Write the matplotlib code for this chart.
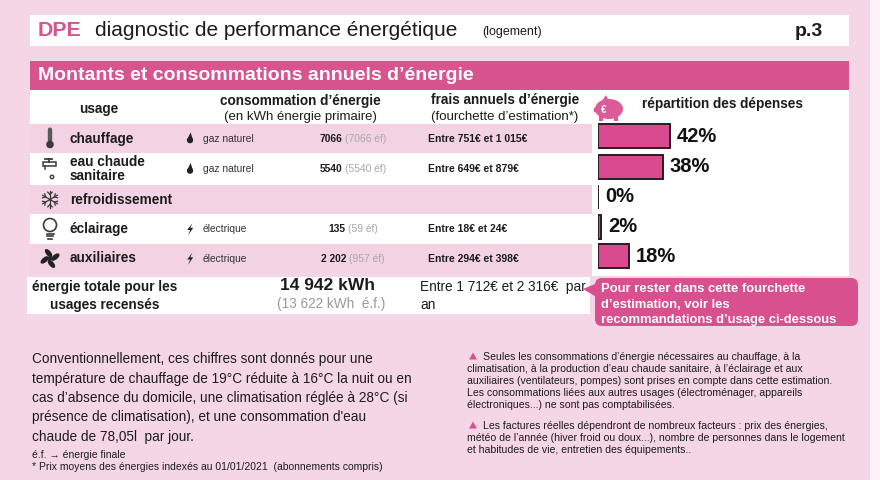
import math
import matplotlib
matplotlib.use('Agg')
import matplotlib.pyplot as plt
from matplotlib.patches import Rectangle, FancyBboxPatch, Polygon, Circle, Ellipse

plt.rcParams['font.family'] = ['Liberation Sans', 'DejaVu Sans']

# ---------------- data ----------------
usages = ['chauffage', 'eau chaude\nsanitaire', 'refroidissement', 'éclairage', 'auxiliaires']
energy_types = ['gaz naturel', 'gaz naturel', '', 'électrique', 'électrique']
energy_kinds = ['gaz', 'gaz', '', 'elec', 'elec']
conso_primaire = ['7066', '5540', '', '135', '2 202']
conso_finale = ['7066', '5540', '', '59', '957']
frais = ['Entre 751€ et 1 015€', 'Entre 649€ et 879€', '', 'Entre 18€ et 24€', 'Entre 294€ et 398€']
repartition = [42, 38, 0, 2, 18]
total_label = ['énergie totale pour les', 'usages recensés']
total_primaire = '14 942 kWh'
total_finale = '(13 622 kWh  é.f.)'
total_frais = ['Entre 1 712€ et 2 316€  par', 'an']
callout_lines = ['Pour rester dans cette fourchette',
                 'd’estimation, voir les',
                 'recommandations d’usage ci-dessous']
body_lines = ['Conventionnellement, ces chiffres sont donnés pour une',
              'température de chauffage de 19°C réduite à 16°C la nuit ou en',
              'cas d’absence du domicile, une climatisation réglée à 28°C (si',
              'présence de climatisation), et une consommation d\'eau',
              'chaude de 78,05l  par jour.']
foot_lines = ['é.f. → énergie finale',
              '* Prix moyens des énergies indexés au 01/01/2021  (abonnements compris)']
note1 = ['Seules les consommations d’énergie nécessaires au chauffage, à la',
         'climatisation, à la production d’eau chaude sanitaire, à l’éclairage et aux',
         'auxiliaires (ventilateurs, pompes) sont prises en compte dans cette estimation.',
         'Les consommations liées aux autres usages (électroménager, appareils',
         'électroniques...) ne sont pas comptabilisées.']
note2 = ['Les factures réelles dépendront de nombreux facteurs : prix des énergies,',
         'météo de l’année (hiver froid ou doux...), nombre de personnes dans le logement',
         'et habitudes de vie, entretien des équipements..']

# ---------------- style ----------------
BG = '#f5d6e7'
ROWPINK = '#f3d3e3'
PINK = '#d7548f'
BARPINK = '#d94a8e'
DARK = '#1c1c1c'
GREY = '#a8a8a8'
W, H = 880, 480

fig = plt.figure(figsize=(8.8, 4.8), dpi=100)
ax = fig.add_axes([0, 0, 1, 1])
ax.set_xlim(0, W)
ax.set_ylim(H, 0)
ax.axis('off')


def rect(x0, y0, x1, y1, color, z=0):
    ax.add_patch(Rectangle((x0, y0), x1 - x0, y1 - y0, facecolor=color,
                           edgecolor='none', zorder=z))


rect(0, 0, 870, 480, BG)
rect(870, 0, 880, 480, '#fdf2f8')

# header
rect(30, 15, 849, 46, 'white')
ax.text(38, 31, 'DPE', color=PINK, fontsize=15.4, fontweight='bold', va='center')
ax.text(95, 31, 'diagnostic de performance énergétique', color=DARK, fontsize=15, va='center')
ax.text(482, 32.5, '(logement)', color=DARK, fontsize=9, va='center')
ax.text(823, 31, 'p.3', color=DARK, fontsize=14, fontweight='bold', ha='right', va='center')

# banner
rect(30, 61, 849, 90, PINK)
ax.text(38, 76, 'Montants et consommations annuels d’énergie', color='white',
        fontsize=14, fontweight='bold', va='center')

# table header
rect(30, 90, 592, 124, 'white')
rect(592, 90, 849, 276, 'white')
ax.text(99, 109, 'usage', fontsize=9.8, fontweight='bold', ha='center', va='center', color=DARK)
ax.text(300, 101, 'consommation d’énergie', fontsize=9.8, fontweight='bold', ha='center', va='center', color=DARK)
ax.text(300, 117, '(en kWh énergie primaire)', fontsize=9.5, ha='center', va='center', color=DARK)
ax.text(505, 100, 'frais annuels d’énergie', fontsize=9.8, fontweight='bold', ha='center', va='center', color=DARK)
ax.text(505, 117, '(fourchette d’estimation*)', fontsize=9.5, ha='center', va='center', color=DARK)

# rows
edges = [124, 153, 185, 214, 244, 273]
centers = [(a + b) / 2 for a, b in zip(edges[:-1], edges[1:])]
for i, (a, b) in enumerate(zip(edges[:-1], edges[1:])):
    rect(30, a, 592, b, ROWPINK if i % 2 == 0 else 'white')

ICON = '#3a3a3a'


def icon_thermo(x, y):
    ax.add_patch(FancyBboxPatch((x - 2.2, y - 11), 4.4, 15, boxstyle='round,pad=0,rounding_size=2.2',
                                fc='#5a5a5a', ec='none', zorder=3))
    ax.add_patch(Circle((x, y + 6), 3.8, fc='#3a3a3a', ec='none', zorder=3))


def icon_faucet(x, y):
    ax.plot([x - 5, x + 2], [y - 10, y - 10], color=ICON, lw=1.3, zorder=3)
    ax.plot([x - 1.5, x - 1.5], [y - 10, y - 7], color=ICON, lw=1.3, zorder=3)
    ax.add_patch(Rectangle((x - 7, y - 7), 13, 4, fc='none', ec=ICON, lw=1.1, zorder=3))
    ax.plot([x - 5.5, x - 5.5], [y - 3, y + 0], color=ICON, lw=1.1, zorder=3)
    ax.add_patch(Circle((x + 2, y + 8), 1.7, fc='none', ec=ICON, lw=1.0, zorder=3))


def icon_snow(x, y):
    r = 8.5
    for k in range(6):
        a = math.radians(90 + 60 * k)
        ex, ey = x + r * math.cos(a), y - r * math.sin(a)
        ax.plot([x, ex], [y, ey], color=ICON, lw=0.9, zorder=3)
        mx, my = x + 0.6 * r * math.cos(a), y - 0.6 * r * math.sin(a)
        for d in (-45, 45):
            b = a + math.radians(d)
            ax.plot([mx, mx + 3.2 * math.cos(b)], [my, my - 3.2 * math.sin(b)], color=ICON, lw=0.9, zorder=3)


def icon_bulb(x, y):
    ax.add_patch(Circle((x, y - 4), 6.5, fc='none', ec=ICON, lw=1.2, zorder=3))
    ax.plot([x - 3.5, x + 3.5], [y + 4.5, y + 4.5], color=ICON, lw=1.2, zorder=3)
    ax.plot([x - 3.2, x + 3.2], [y + 7, y + 7], color=ICON, lw=1.2, zorder=3)
    ax.plot([x - 2, x + 2], [y + 9.5, y + 9.5], color=ICON, lw=1.2, zorder=3)


def icon_fan(x, y):
    for k in range(4):
        a = math.radians(90 * k + 15)
        cx, cy = x + 5.5 * math.cos(a), y - 5.5 * math.sin(a)
        ax.add_patch(Ellipse((cx, cy), 10, 5, angle=-(90 * k + 15) - 25,
                             fc='#222222', ec='none', zorder=3))
    ax.add_patch(Circle((x, y), 2, fc='#222222', ec='none', zorder=3))


icons = [icon_thermo, icon_faucet, icon_snow, icon_bulb, icon_fan]


def flame(x, y):
    ax.add_patch(Ellipse((x, y + 1.8), 6.2, 6, fc='#222222', ec='none', zorder=3))
    ax.add_patch(Polygon([(x - 3.0, y + 1.2), (x + 3.0, y + 1.2), (x + 0.6, y - 6)],
                         closed=True, fc='#222222', ec='none', zorder=3))


def bolt(x, y):
    ax.add_patch(Polygon([(x + 2.5, y - 6), (x - 2.8, y + 1), (x + 0.2, y + 1),
                          (x - 2, y + 6.5), (x + 3.2, y - 1.2), (x + 0.3, y - 1.2)],
                         closed=True, fc='#222222', ec='none', zorder=3))


fig.canvas.draw()
renderer = fig.canvas.get_renderer()

for i, c in enumerate(centers):
    icons[i](50, c)
    ax.text(70, c, usages[i], fontsize=9.8, fontweight='bold', va='center', color=DARK,
            linespacing=0.95)
    if energy_kinds[i] == 'gaz':
        flame(190, c)
    elif energy_kinds[i] == 'elec':
        bolt(190, c)
    if energy_types[i]:
        ax.text(203, c, energy_types[i], fontsize=7.4, va='center', color='#333333')
    if conso_primaire[i]:
        t1 = ax.text(0, c, conso_primaire[i], fontsize=7.4, fontweight='bold', va='center', color=DARK)
        t2 = ax.text(0, c, '(' + conso_finale[i] + ' éf)', fontsize=7.4, va='center', color=GREY)
        w1 = t1.get_window_extent(renderer).width
        w2 = t2.get_window_extent(renderer).width
        gap = 3
        x0 = 353 - (w1 + gap + w2) / 2
        t1.set_x(x0)
        t2.set_x(x0 + w1 + gap)
    if frais[i]:
        ax.text(428, c, frais[i], fontsize=7.5, fontweight='bold', va='center', color=DARK)

# total row
rect(27, 277, 590, 314, 'white')
ax.text(105, 287, total_label[0], fontsize=9.8, fontweight='bold', ha='center', va='center', color=DARK)
ax.text(105, 305, total_label[1], fontsize=9.8, fontweight='bold', ha='center', va='center', color=DARK)
ax.text(328, 285, total_primaire, fontsize=12.5, fontweight='bold', ha='center', va='center', color=DARK)
ax.text(331, 304, total_finale, fontsize=9.8, ha='center', va='center', color='#9a9a9a')
ax.text(420, 287, total_frais[0], fontsize=9.8, va='center', color=DARK)
ax.text(420, 305, total_frais[1], fontsize=9.8, va='center', color=DARK)

# piggy bank + title
PIG = '#dc5a98'
ax.add_patch(Ellipse((609, 109), 28, 20, fc=PIG, ec='none', zorder=3))
ax.add_patch(Polygon([(602, 101), (606, 95), (609, 101)], closed=True, fc=PIG, ec='none', zorder=3))
ax.add_patch(Rectangle((599, 115), 4, 6, fc=PIG, ec='none', zorder=3))
ax.add_patch(Rectangle((614, 115), 4, 6, fc=PIG, ec='none', zorder=3))
ax.add_patch(Ellipse((595.5, 110), 4, 5, fc=PIG, ec='none', zorder=3))
ax.text(604, 110, '€', fontsize=7, fontweight='bold', color='white', ha='center', va='center', zorder=4)
ax.text(642, 104, 'répartition des dépenses', fontsize=9.8, fontweight='bold', va='center', color=DARK)

# bar chart (répartition)
bax = fig.add_axes([598 / W, (H - 273) / H, 171 / W, (273 - 120) / H])
bax.set_xlim(0, 100)
bax.set_ylim(273, 120)
bax.axis('off')
bar_y = [c - 2.5 for c in centers]
bars = bax.barh(bar_y, repartition, height=24, color=BARPINK, edgecolor='#2b1a22', linewidth=1.4)
bax.bar_label(bars, labels=[f'{v}%' for v in repartition], padding=5,
              fontsize=14.5, fontweight='bold', color='#111111')

# callout
ax.add_patch(FancyBboxPatch((595, 278), 263, 48, boxstyle='round,pad=0,rounding_size=7',
                            fc='#d8508e', ec='none', zorder=5))
ax.add_patch(Polygon([(583, 289), (600, 282), (600, 299)], closed=True, fc='#d8508e', ec='none', zorder=5))
for k, line in enumerate(callout_lines):
    ax.text(601, 289.5 + 15 * k, line, fontsize=9.4, fontweight='bold', color='white',
            va='center', zorder=6)

# bottom left text
for k, line in enumerate(body_lines):
    ax.text(32, 359 + 19.5 * k, line, fontsize=9.8, va='center', color=DARK)
ax.text(32, 455, foot_lines[0], fontsize=7.5, va='center', color=DARK)
ax.text(32, 467, foot_lines[1], fontsize=7.5, va='center', color=DARK)

# bottom right notes
for k, line in enumerate(note1):
    x = 483 if k == 0 else 467
    ax.text(x, 357 + 12 * k, line, fontsize=7.6, va='center', color=DARK)
for k, line in enumerate(note2):
    x = 483 if k == 0 else 467
    ax.text(x, 426 + 12 * k, line, fontsize=7.6, va='center', color=DARK)
for yy in (356, 425):
    ax.add_patch(Polygon([(469, yy + 3.5), (477, yy + 3.5), (473, yy - 3.5)], closed=True,
                         fc='#d8508e', ec='none', zorder=3))

fig.savefig('out.png', dpi=100)
